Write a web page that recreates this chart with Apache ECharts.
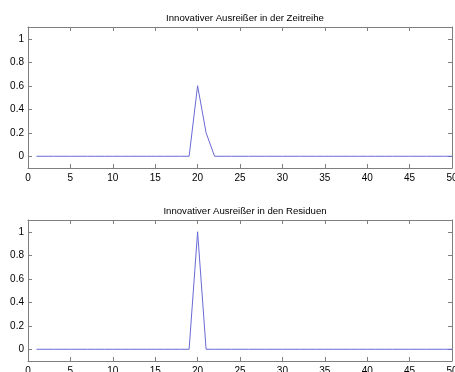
<!DOCTYPE html>
<html>
<head>
<meta charset="utf-8">
<script src="https://cdn.jsdelivr.net/npm/echarts@6/dist/echarts.min.js"></script>
<style>
  html, body { margin: 0; padding: 0; background: #fff; }
  #chart { width: 455px; height: 372px; }
</style>
</head>
<body>
<div id="chart"></div>
<script>
// Time index t = 1..50
const timeSteps = [
  1, 2, 3, 4, 5, 6, 7, 8, 9, 10,
  11, 12, 13, 14, 15, 16, 17, 18, 19, 20,
  21, 22, 23, 24, 25, 26, 27, 28, 29, 30,
  31, 32, 33, 34, 35, 36, 37, 38, 39, 40,
  41, 42, 43, 44, 45, 46, 47, 48, 49, 50
];

// Innovative outlier as it appears in the series itself
const seriesValues = [
  0, 0, 0, 0, 0, 0, 0, 0, 0, 0,
  0, 0, 0, 0, 0, 0, 0, 0, 0, 0.6,
  0.2, 0, 0, 0, 0, 0, 0, 0, 0, 0,
  0, 0, 0, 0, 0, 0, 0, 0, 0, 0,
  0, 0, 0, 0, 0, 0, 0, 0, 0, 0
];

// Innovative outlier as it appears in the residuals
const residualValues = [
  0, 0, 0, 0, 0, 0, 0, 0, 0, 0,
  0, 0, 0, 0, 0, 0, 0, 0, 0, 1,
  0, 0, 0, 0, 0, 0, 0, 0, 0, 0,
  0, 0, 0, 0, 0, 0, 0, 0, 0, 0,
  0, 0, 0, 0, 0, 0, 0, 0, 0, 0
];

const titles = [
  'Innovativer Ausreißer in der Zeitreihe',
  'Innovativer Ausreißer in den Residuen'
];

const xTicks = { min: 0, max: 50, interval: 5 };
const yTicks = { min: -0.1, max: 1.1 };
const yTickValues = [0, 0.2, 0.4, 0.6, 0.8, 1];

const FONT = 'Liberation Sans, Arial, sans-serif';
const BOX = '#7f7f7f';
const LINE = '#6a6ad6';

const grids = [
  { left: 28, right: 3, top: 27, height: 141, outerBoundsMode: 'none', containLabel: false },
  { left: 28, right: 3, top: 220, height: 141, outerBoundsMode: 'none', containLabel: false }
];

function xAxesFor(gi) {
  const base = {
    type: 'value', gridIndex: gi, min: xTicks.min, max: xTicks.max, interval: xTicks.interval,
    axisLine: { show: true, onZero: false, lineStyle: { color: BOX, width: 1 } },
    axisTick: { show: true, inside: true, length: 4, lineStyle: { color: BOX } },
    splitLine: { show: false }
  };
  return [
    Object.assign({}, base, {
      position: 'bottom',
      axisLabel: { show: true, color: '#000', fontSize: 10, fontFamily: FONT, margin: 5,
        showMinLabel: true, showMaxLabel: true }
    }),
    Object.assign({}, base, { position: 'top', axisLabel: { show: false } })
  ];
}

function yAxesFor(gi) {
  const base = {
    type: 'value', gridIndex: gi, min: yTicks.min, max: yTicks.max,
    axisLine: { show: true, onZero: false, lineStyle: { color: BOX, width: 1 } },
    axisTick: { show: true, inside: true, length: 4, lineStyle: { color: BOX },
      customValues: yTickValues },
    splitLine: { show: false }
  };
  return [
    Object.assign({}, base, {
      position: 'left',
      axisLabel: { show: true, color: '#000', fontSize: 10, fontFamily: FONT, margin: 4,
        customValues: yTickValues }
    }),
    Object.assign({}, base, { position: 'right', axisLabel: { show: false } })
  ];
}

function pairs(ys) {
  return timeSteps.map((t, i) => [t, ys[i]]);
}

const chart = echarts.init(document.getElementById('chart'), null, { renderer: 'canvas' });
chart.setOption({
  animation: false,
  backgroundColor: '#fff',
  title: titles.map((t, i) => ({
    text: t,
    left: 240, textAlign: 'center',
    top: i === 0 ? 8 : 201,
    textStyle: { fontSize: 9.6, fontWeight: 'normal', color: '#000', fontFamily: FONT }
  })),
  grid: grids,
  xAxis: [...xAxesFor(0), ...xAxesFor(1)],
  yAxis: [...yAxesFor(0), ...yAxesFor(1)],
  series: [
    {
      type: 'line', xAxisIndex: 0, yAxisIndex: 0, data: pairs(seriesValues),
      showSymbol: false, lineStyle: { color: LINE, width: 1 }
    },
    {
      type: 'line', xAxisIndex: 2, yAxisIndex: 2, data: pairs(residualValues),
      showSymbol: false, lineStyle: { color: LINE, width: 1 }
    }
  ]
});
</script>
</body>
</html>
